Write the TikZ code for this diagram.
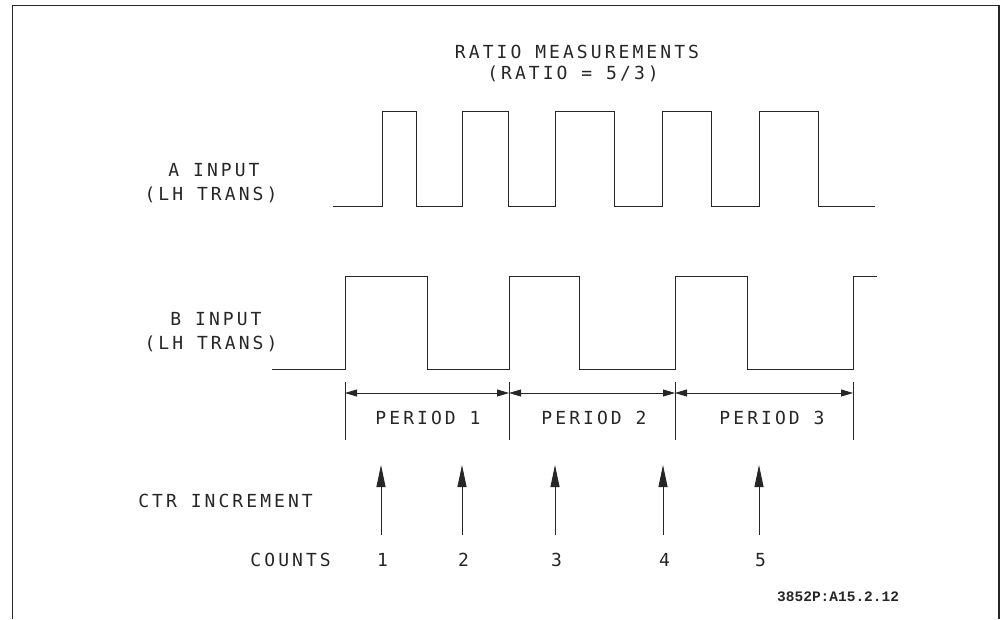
\documentclass[tikz,border=0pt]{standalone}
\usepackage{fontspec}
\newfontfamily\plotfont[LetterSpace=17]{DejaVu Sans Mono}
\newfontfamily\notefont{Liberation Mono}
\usetikzlibrary{arrows.meta}
\begin{document}
\begin{tikzpicture}[x=1pt,y=-1pt,
  wave/.style={line width=1pt, black!85, line join=miter},
  lbl/.style={font=\plotfont\fontsize{18}{24}\selectfont, text=black!85, inner sep=0pt},
  notelbl/.style={font=\notefont\bfseries\fontsize{14.5}{17}\selectfont, text=black!85, inner sep=0pt},
  frame/.style={line width=1.3pt, black!85},
  ext/.style={line width=0.8pt, black!85},
  dimline/.style={line width=0.8pt, black!85, {Triangle[length=12pt,width=7pt]}-{Triangle[length=12pt,width=7pt]}},
  uparrow/.style={line width=0.9pt, black!85, -{Triangle[length=22pt,width=9pt]}}]
\useasboundingbox (0,0) rectangle (1001,619);
% frame (open at bottom)
\draw[frame] (12.5,619) -- (12.5,5.5) -- (999,5.5) -- (999,619);
% title
\node[lbl, anchor=base] (t1) at (577,58.5) {RATIO MEASUREMENTS};
\node[lbl, anchor=base] (t2) at (573,79) {(RATIO = 5/3)};
% signal labels
\node[lbl, anchor=base] (a1) at (214,176) {A INPUT};
\node[lbl, anchor=base] (a2) at (211,200) {(LH TRANS)};
\node[lbl, anchor=base] (b1) at (216,325) {B INPUT};
\node[lbl, anchor=base] (b2) at (211,349) {(LH TRANS)};
% A waveform
\draw[wave] (333,206) -- (382,206) -- (382,111) -- (416,111) -- (416,206)
  -- (462,206) -- (462,111) -- (508,111) -- (508,206)
  -- (555,206) -- (555,111) -- (614,111) -- (614,206)
  -- (662,206) -- (662,111) -- (711,111) -- (711,206)
  -- (759,206) -- (759,111) -- (818,111) -- (818,206) -- (875,206);
% B waveform
\draw[wave] (272,369) -- (345,369) -- (345,276) -- (427,276) -- (427,369)
  -- (509,369) -- (509,276) -- (579,276) -- (579,369)
  -- (675,369) -- (675,276) -- (747,276) -- (747,369)
  -- (853,369) -- (853,276) -- (877,276);
% period extension lines
\foreach \n/\x in {e0/345,e1/509,e2/675,e3/853}{
  \coordinate (\n t) at (\x,382);
  \coordinate (\n b) at (\x,440);
  \coordinate (\n m) at (\x,393);
  \draw[ext] (\n t) -- (\n b);
}
\draw[dimline] (e0m) -- (e1m);
\draw[dimline] (e1m) -- (e2m);
\draw[dimline] (e2m) -- (e3m);
\node[lbl, anchor=base] (p1) at (428,424) {PERIOD 1};
\node[lbl, anchor=base] (p2) at (594,424) {PERIOD 2};
\node[lbl, anchor=base] (p3) at (772,424) {PERIOD 3};
% counter increments
\node[lbl, anchor=base east] (ctr) at (313,507) {CTR INCREMENT};
\node[lbl, anchor=base east] (cnt) at (331,566) {COUNTS};
\foreach \n/\x in {1/381,2/462,3/555,4/663,5/759}{
  \coordinate (u\n b) at (\x,535);
  \coordinate (u\n t) at (\x,465);
  \draw[uparrow] (u\n b) -- (u\n t);
  \node[lbl, anchor=base] (c\n) at (\x+1.5,566) {\n};
}
\node[notelbl, anchor=base west] (note) at (777,601) {3852P:A15.2.12};
\end{tikzpicture}
\end{document}
